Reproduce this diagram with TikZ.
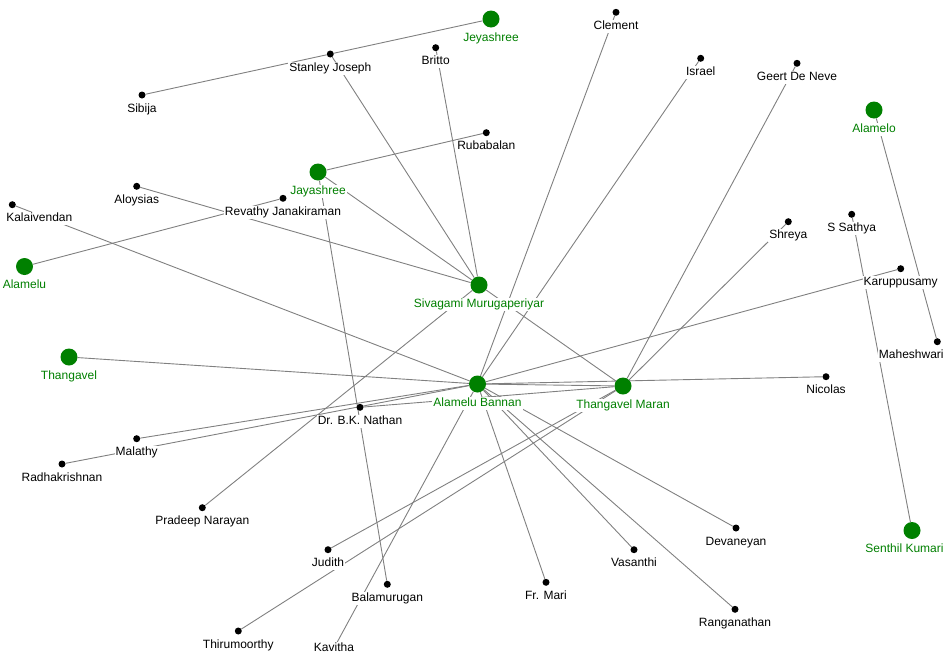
\documentclass[tikz,border=0pt]{standalone}
\usepackage{fontspec}
\setmainfont{Liberation Sans}
\usetikzlibrary{backgrounds}
\definecolor{kin}{HTML}{008000}
\begin{document}
\begin{tikzpicture}[x=1pt,y=-1pt, every node/.style={font=\fontsize{12}{14}\selectfont}, label distance=3.8pt,
  lbl/.style={fill=white,inner sep=1pt,text height=8.5pt,text depth=2.5pt},
  dotbase/.style={circle,fill=black,inner sep=0pt,minimum size=7pt},
  kinbase/.style={circle,fill=kin,inner sep=0pt,minimum size=17pt},
  member/.style={dotbase,label={[lbl]below:#1}},
  kinfolk/.style={kinbase,label={[lbl,text=kin]below:#1}},
  tie/.style={black!50,line width=0.9pt}]
\useasboundingbox (0,0) rectangle (950,662);
% family
\node[kinfolk=Jeyashree] (jeyashree) at (491,19) {};
\node[kinfolk=Alamelo] (alamelo) at (874,110) {};
\node[kinfolk=Jayashree] (jayashree) at (318,172) {};
\node[kinfolk=Alamelu] (alamelu) at (24.5,266.5) {};
\node[kinfolk=Sivagami Murugaperiyar] (sivagami) at (479,285) {};
\node[kinfolk=Thangavel] (thangavel) at (69,357) {};
\node[kinfolk=Alamelu Bannan] (bannan) at (477.5,384) {};
\node[kinfolk=Thangavel Maran] (maran) at (623,386) {};
\node[kinbase,label={[lbl,text=kin,xshift=-7.5]below:Senthil Kumari}] (senthil) at (912,530.5) {};
% others
\node[member=Clement] (clement) at (616,12.3) {};
\node[member=Britto] (britto) at (435.7,47.7) {};
\node[member=Stanley Joseph] (stanley) at (330.3,54) {};
\node[member=Israel] (israel) at (700.7,58.3) {};
\node[member=Geert De Neve] (geert) at (797,63.3) {};
\node[member=Sibija] (sibija) at (142,95) {};
\node[member=Rubabalan] (rubabalan) at (486.3,132.7) {};
\node[member=Aloysias] (aloysias) at (136.7,186.3) {};
\node[member=Revathy Janakiraman] (revathy) at (283,198.3) {};
\node[dotbase,label={[lbl,xshift=27]below:Kalaivendan}] (kalaivendan) at (12.3,204.7) {};
\node[member=Shreya] (shreya) at (788.3,221.7) {};
\node[member=S Sathya] (sathya) at (851.7,214.3) {};
\node[member=Karuppusamy] (karuppusamy) at (900.7,268.7) {};
\node[dotbase,label={[lbl,xshift=-26]below:Maheshwari}] (maheshwari) at (937.3,341.7) {};
\node[member=Nicolas] (nicolas) at (826,376.7) {};
\node[member=Dr. B.K. Nathan] (nathan) at (360,407.3) {};
\node[member=Malathy] (malathy) at (136.7,438.7) {};
\node[member=Radhakrishnan] (radhakrishnan) at (62,464) {};
\node[member=Pradeep Narayan] (pradeep) at (202.3,507.7) {};
\node[member=Devaneyan] (devaneyan) at (736,528) {};
\node[member=Judith] (judith) at (328,549.7) {};
\node[member=Vasanthi] (vasanthi) at (634,549.7) {};
\node[member=Fr. Mari] (mari) at (546,582.3) {};
\node[member=Balamurugan] (balamurugan) at (387.3,584.3) {};
\node[member=Ranganathan] (ranganathan) at (735,609.3) {};
\node[member=Thirumoorthy] (thirumoorthy) at (238.3,631) {};
\node[dotbase] (kavitha) at (334,648) {}; \node[lbl] (kavithalbl) at (kavitha) {Kavitha};
\begin{scope}[on background layer]
\draw[tie] (jeyashree)--(stanley); \draw[tie] (stanley)--(sibija); \draw[tie] (stanley)--(sivagami);
\draw[tie] (britto)--(sivagami); \draw[tie] (jayashree)--(rubabalan); \draw[tie] (jayashree)--(sivagami);
\draw[tie] (jayashree)--(balamurugan); \draw[tie] (aloysias)--(sivagami); \draw[tie] (revathy)--(alamelu);
\draw[tie] (kalaivendan)--(bannan); \draw[tie] (clement)--(bannan); \draw[tie] (israel)--(bannan);
\draw[tie] (geert)--(maran); \draw[tie] (shreya)--(maran); \draw[tie] (karuppusamy)--(bannan);
\draw[tie] (alamelo)--(maheshwari); \draw[tie] (sathya)--(senthil); \draw[tie] (sivagami)--(maran);
\draw[tie] (sivagami)--(pradeep); \draw[tie] (thangavel)--(bannan); \draw[tie] (bannan)--(maran);
\draw[tie] (bannan)--(nicolas); \draw[tie] (malathy)--(bannan); \draw[tie] (radhakrishnan)--(bannan);
\draw[tie] (nathan)--(maran); \draw[tie] (maran)--(judith); \draw[tie] (maran)--(thirumoorthy);
\draw[tie] (bannan)--(kavitha); \draw[tie] (bannan)--(mari); \draw[tie] (bannan)--(vasanthi);
\draw[tie] (bannan)--(ranganathan); \draw[tie] (bannan)--(devaneyan);
\end{scope}
\end{tikzpicture}
\end{document}
